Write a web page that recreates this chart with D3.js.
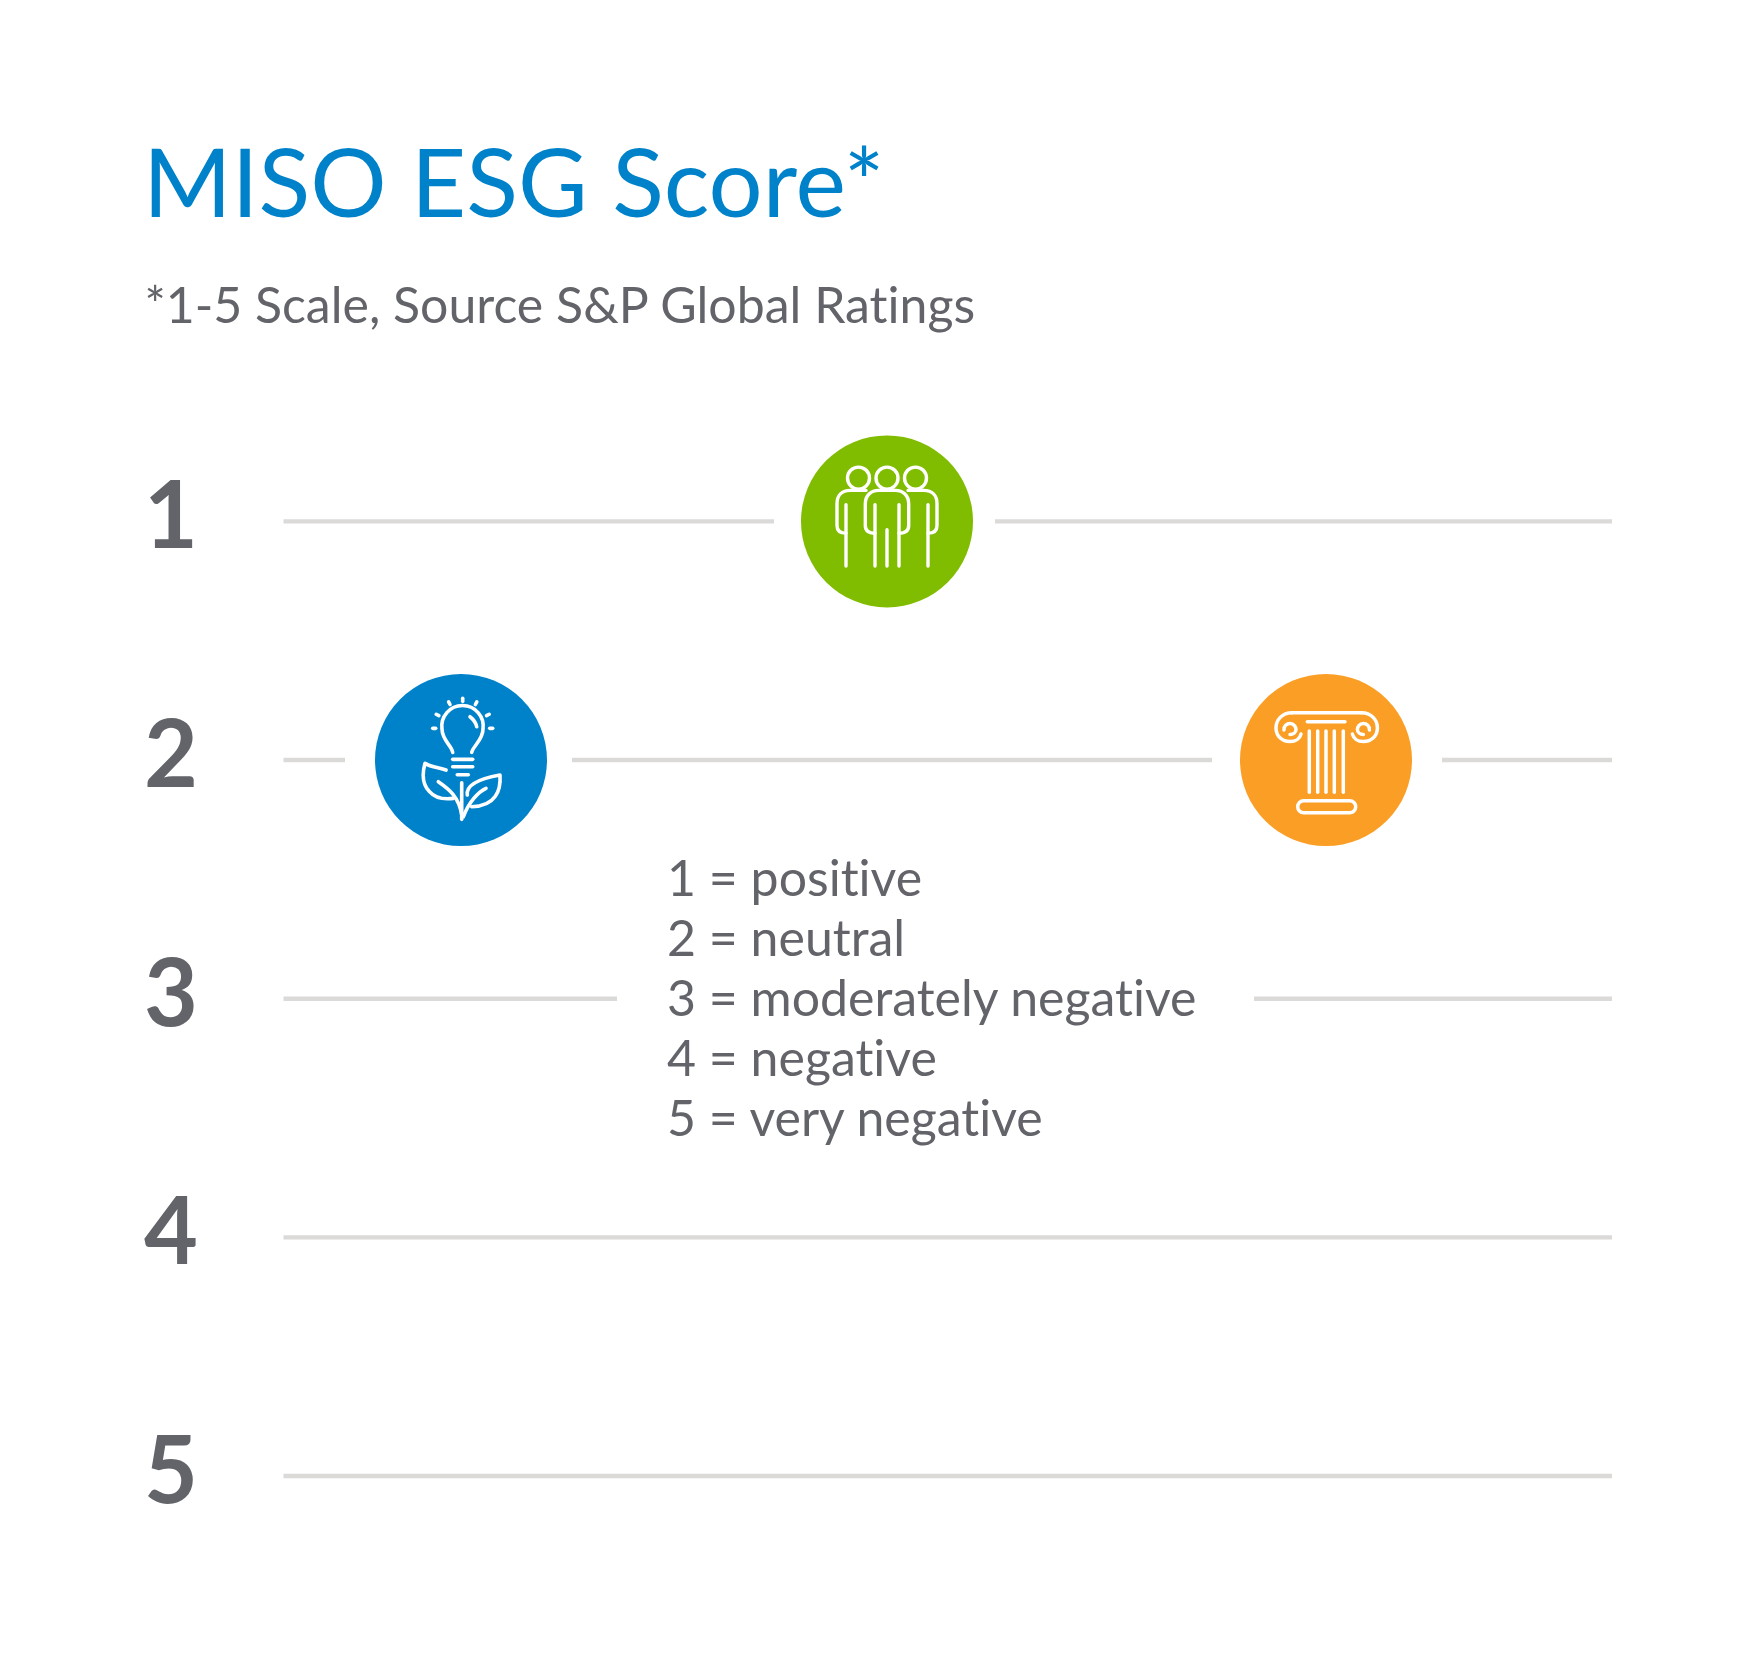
<!DOCTYPE html>
<html>
<head>
<meta charset="utf-8"/>
<title>MISO ESG Score</title>
<script src="https://d3js.org/d3.v7.min.js"></script>
<style>
  html, body { margin: 0; padding: 0; background: #fff; }
  text { font-family: Lato, sans-serif; font-variant-ligatures: none; }
</style>
</head>
<body>
<svg id="chart" width="1762" height="1662"></svg>
<script>
var scoreLevels = [1, 2, 3, 4, 5];
var pillars = ["Environmental", "Social", "Governance"];
var pillarScores = [2, 1, 2];
var pillarColors = ["#0082ca", "#80bc00", "#fa9e25"];
var legendLines = ["1 = positive", "2 = neutral", "3 = moderately negative", "4 = negative", "5 = very negative"];
var titleText = "MISO ESG Score*";
var subtitleText = "*1-5 Scale, Source S&P Global Ratings";

var svg = d3.select("#chart");
var y = d3.scaleLinear().domain([1, 5]).range([521.4, 1476]);
var x = d3.scaleOrdinal().domain(pillars).range([461, 887, 1326]);
var lineLeft = 283.5, lineRight = 1612;

// breaks in each rule, left to right
var gaps = { 1: [[774, 995]], 2: [[345, 572], [1212, 1442]], 3: [[617, 1254]], 4: [], 5: [] };

svg.append("text").attr("x", 143).attr("y", 216.7).attr("font-size", 95.5).attr("fill", "#0082ca").text(titleText);
svg.append("text").attr("x", 144.4).attr("y", 323).attr("font-size", 50).attr("fill", "#626469").text(subtitleText);

scoreLevels.forEach(function(level){
  var segStart = lineLeft;
  gaps[level].concat([[lineRight, lineRight]]).forEach(function(g){
    svg.append("line").attr("x1", segStart).attr("x2", g[0])
      .attr("y1", y(level)).attr("y2", y(level))
      .attr("stroke", "#dbdad8").attr("stroke-width", 4.4);
    segStart = g[1];
  });
  svg.append("text").attr("x", 171).attr("y", y(level) + 27)
    .attr("text-anchor", "middle").attr("font-size", 93).attr("font-weight", 700)
    .attr("fill", "#626469").text(level);
});

svg.selectAll(".leg").data(legendLines).enter().append("text")
  .attr("class", "leg")
  .attr("x", 667).attr("y", function(d, i){ return 895.6 + i * 60; })
  .attr("font-size", 50).attr("fill", "#626469").text(function(d){ return d; });

// white line icons, drawn around the circle centre
function segment(g, x1, y1, x2, y2){
  g.append("line").attr("x1", x1).attr("y1", y1).attr("x2", x2).attr("y2", y2);
}
function outline(g, d){
  g.append("path").attr("d", d);
}

function drawPlant(g){
  g.attr("stroke-width", 3.6);
  outline(g, "M-8.3,-7.7 C-9,-14 -19,-20 -19,-31 A20.7,20.7 0 1 1 22,-31 C22,-20 12,-14 10.7,-7.7");
  outline(g, "M9,-43.3 C12,-41 15,-37 15.7,-33.3");
  [180, 152, 118, 90, 62, 28, 0].forEach(function(a){
    var r = a * Math.PI / 180;
    segment(g, 1.7 + 27 * Math.cos(r), -31.7 - 27 * Math.sin(r), 1.7 + 30 * Math.cos(r), -31.7 - 30 * Math.sin(r));
  });
  segment(g, -8.3, -0.7, 11.7, -0.7);
  segment(g, -8.3, 6.7, 11.7, 6.7);
  segment(g, -3.7, 14.7, 7.3, 14.7);
  segment(g, 0.7, 22.7, 0.7, 59.3);
  outline(g, "M-15,10 C-22,7.5 -30,7 -36,3.3 C-39,14 -38.5,24 -32,31 C-26,38 -16,39.5 -7.7,38.3");
  outline(g, "M-22.7,21.7 C-12,29 -2,37 0.7,55");
  outline(g, "M6.3,35 C5,26 14,19.5 39,15 C40,30 35,46 10.7,46.7");
  outline(g, "M25,28.3 C17,32 8,42 2.3,56.7");
}

function drawPeople(g){
  g.attr("stroke-width", 3.4);
  [-28.5, 0, 28.5].forEach(function(cx){
    g.append("circle").attr("cx", cx).attr("cy", -43.3).attr("r", 11);
  });
  outline(g, "M-12,11.7 C-18,11.7 -21.7,9 -21.7,4 L-21.7,-17.7 C-21.7,-26 -16,-31 -8.3,-31 L8.3,-31 C16,-31 21.7,-26 21.7,-17.7 L21.7,4 C21.7,9 18,11.7 12,11.7");
  outline(g, "M-41,11.7 C-47,11.7 -50,9 -50,4 L-50,-17.7 C-50,-26 -45,-31 -36.7,-31 L-21,-31");
  outline(g, "M41,11.7 C47,11.7 50,9 50,4 L50,-17.7 C50,-26 45,-31 36.7,-31 L21,-31");
  [-41, -12, 12, 41].forEach(function(lx){
    segment(g, lx, -16.7, lx, 44.7);
  });
  segment(g, 0, 8.3, 0, 44.7);
}

function drawColumn(g){
  g.attr("stroke-width", 3.5);
  segment(g, -34, -47.3, 35.5, -47.3);
  segment(g, -18.7, -38.3, 19, -38.3);
  [g, g.append("g").attr("transform", "translate(1.4,0) scale(-1,1)")].forEach(function(side){
    outline(side, "M-34,-47.3 C-44,-47.3 -50,-40 -50,-32 C-50,-24 -44,-18.5 -36,-18.5 C-30,-18.5 -26,-22 -25,-26");
    outline(side, "M-42,-30 C-42.5,-34 -39,-36.5 -36,-36.5 C-32,-36.5 -30,-33 -30,-30.5 C-30,-27.5 -33,-25.5 -36,-25.5");
  });
  [-16.7, -8.3, 0, 8.3, 17.3].forEach(function(fx){
    segment(g, fx, -29, fx, 32.3);
  });
  g.append("rect").attr("x", -28.3).attr("y", 40.7).attr("width", 58).attr("height", 12).attr("rx", 6);
}

var iconDrawers = [drawPlant, drawPeople, drawColumn];

pillars.forEach(function(p, i){
  svg.append("circle").attr("cx", x(p)).attr("cy", y(pillarScores[i])).attr("r", 86).attr("fill", pillarColors[i]);
  var icon = svg.append("g").attr("transform", "translate(" + x(p) + "," + y(pillarScores[i]) + ")")
    .attr("fill", "none").attr("stroke", "#fff").attr("stroke-linecap", "round").attr("stroke-linejoin", "round");
  iconDrawers[i](icon);
});
</script>
</body>
</html>
